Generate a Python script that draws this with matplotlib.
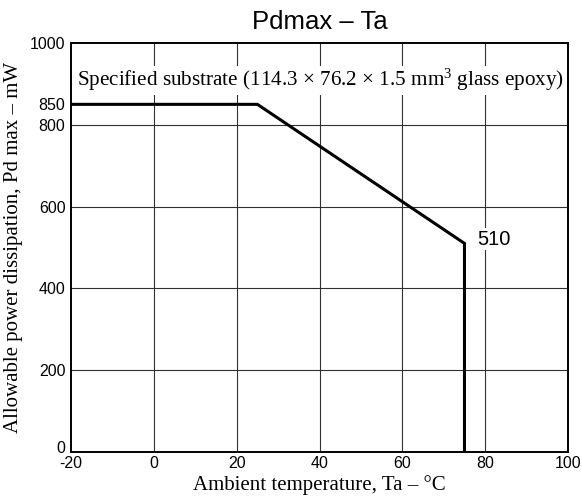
import matplotlib
matplotlib.use("Agg")
import matplotlib.pyplot as plt
import matplotlib.transforms as mtransforms

# Data
ta = [-20, 25, 75, 75]
pd_mw = [850, 850, 510, 0]
x_ticks = [-20, 0, 20, 40, 60, 80, 100]
y_ticks = [0, 200, 400, 600, 800, 850, 1000]
x_grid = [0, 20, 40, 60, 80]
y_grid = [200, 400, 600, 800]
title = "Pdmax – Ta"
xlabel = "Ambient temperature, Ta – °C"
ylabel = "Allowable power dissipation, Pd max – mW"
note = r"Specified substrate (114.3 × 76.2 × 1.5 mm$^{\mathrm{3}}$ glass epoxy)"
end_label = "510"

plt.rcParams['mathtext.fontset'] = 'custom'
plt.rcParams['mathtext.rm'] = 'Liberation Serif'
plt.rcParams['mathtext.it'] = 'Liberation Serif:italic'
plt.rcParams['mathtext.bf'] = 'Liberation Serif:bold'

fig = plt.figure(figsize=(5.82, 5.04), dpi=100)
ax = fig.add_axes([0.122, 0.1032, 0.854, 0.8115])

for x in x_grid:
    ax.axvline(x, color='#303030', lw=0.8, zorder=1)
for y in y_grid:
    ax.axhline(y, color='#303030', lw=0.8, zorder=1)

ax.plot(ta, pd_mw, color='black', lw=2.2, zorder=3, solid_joinstyle='miter')

ax.set_xlim(-20, 100)
ax.set_ylim(0, 1000)
ax.set_xticks(x_ticks)
ax.set_yticks(y_ticks)
ax.set_xticklabels([str(v) for v in x_ticks], family='Liberation Sans', fontsize=11.5)
ax.set_yticklabels([str(v) for v in y_ticks], family='Liberation Sans', fontsize=11.5)
ax.tick_params(length=0, pad=4)
ax.tick_params(axis='x', pad=3)
# nudge the "0" y label upward like the reference
ylabels = ax.get_yticklabels()
ylabels[0].set_transform(ylabels[0].get_transform() +
                         mtransforms.ScaledTranslation(0, 5 / 100, fig.dpi_scale_trans))
for s in ax.spines.values():
    s.set_linewidth(1.4)
    s.set_color('black')

ax.set_xlabel(xlabel, family='Liberation Serif', fontsize=15, labelpad=3)
ax.set_ylabel(ylabel, family='Liberation Serif', fontsize=15, labelpad=5)
ax.set_title(title, family='Liberation Sans', fontsize=18.5, pad=10)

ax.text(40.3, 909, note, family='Liberation Serif', fontsize=15.2, ha='center', va='center',
        bbox=dict(facecolor='white', edgecolor='none', pad=1), zorder=2)
ax.text(78, 520, end_label, family='Liberation Sans', fontsize=14.5, ha='left', va='center',
        bbox=dict(facecolor='white', edgecolor='none', pad=1), zorder=2)

fig.savefig("out.png", dpi=100)
